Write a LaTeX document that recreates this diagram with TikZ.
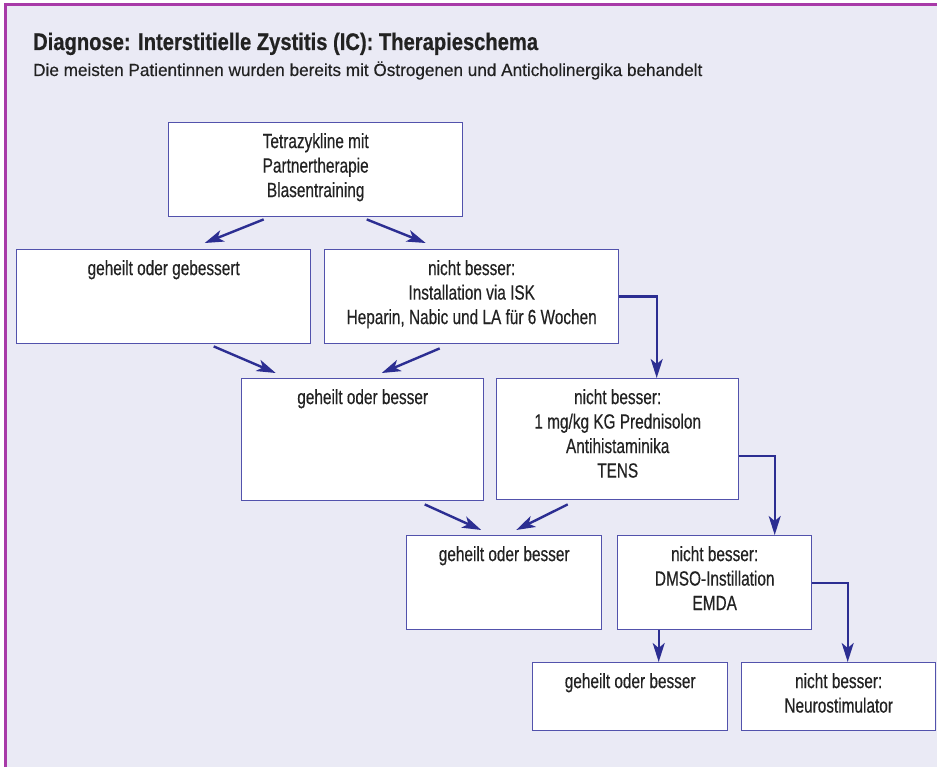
\documentclass[tikz,border=0pt]{standalone}
\usepackage{fontspec}
\setmainfont[FakeStretch=0.86]{Liberation Sans}
\newfontfamily\boxfont[FakeStretch=0.75,FakeBold=0.4]{Liberation Sans}
\newfontfamily\titlefont[FakeStretch=0.84,FakeBold=0.6]{Liberation Sans}
\newfontfamily\subfont[FakeStretch=0.98,FakeBold=0.3]{Liberation Sans}
\usetikzlibrary{arrows.meta}
\definecolor{framepurple}{RGB}{168,58,168}
\definecolor{bglav}{RGB}{234,234,245}
\definecolor{boxline}{RGB}{82,82,172}
\definecolor{arrowblue}{RGB}{44,46,146}
\definecolor{textgray}{RGB}{34,34,34}
\tikzset{
  box/.style={draw=boxline, line width=1.4pt, fill=white, anchor=north west, inner sep=0pt},
  boxtext/.style={anchor=north, align=center, inner sep=0pt, text=textgray, font=\boxfont\fontsize{20.5}{24.5}\selectfont},
  arr/.style={-{Stealth[length=19pt,width=12pt,inset=5pt]}, draw=arrowblue, line width=2.4pt},
}

\begin{document}
\begin{tikzpicture}[x=1pt,y=-1pt]
\useasboundingbox (0,0) rectangle (937,767);
% Hintergrund und Rahmen
\fill[bglav] (4,4) rectangle (937,767);
\draw[framepurple, line width=3pt] (5,767) -- (5,5) -- (937,5);
\node[anchor=base west, inner sep=0pt, text=textgray, font=\titlefont\bfseries\fontsize{24}{28}\selectfont] (titel) at (33,50) {Diagnose: Interstitielle Zystitis (IC): Therapieschema};
\node[anchor=base west, inner sep=0pt, text=textgray, font=\subfont\fontsize{17.5}{20}\selectfont] (untertitel) at (33,76) {Die meisten Patientinnen wurden bereits mit Östrogenen und Anticholinergika behandelt};
% Kaesten
\node[box, minimum width=294pt, minimum height=94pt] (tetra) at (168,122) {};
\node[box, minimum width=294pt, minimum height=94pt] (geb1) at (16,249) {};
\node[box, minimum width=294pt, minimum height=94pt] (isk) at (324,249) {};
\node[box, minimum width=242pt, minimum height=122pt] (geb2) at (241,378) {};
\node[box, minimum width=242pt, minimum height=121pt] (predni) at (496,378) {};
\node[box, minimum width=195pt, minimum height=94pt] (geb3) at (406,535) {};
\node[box, minimum width=194pt, minimum height=94pt] (dmso) at (617,535) {};
\node[box, minimum width=195pt, minimum height=68pt] (geb4) at (532,662) {};
\node[box, minimum width=194pt, minimum height=68pt] (neuro) at (741,662) {};
% Texte
\node[boxtext] (tetra-t) at ([yshift=-11pt]tetra.north) {Tetrazykline mit\\Partnertherapie\\Blasentraining};
\node[boxtext] (geb1-t) at ([yshift=-11pt]geb1.north) {geheilt oder gebessert};
\node[boxtext] (isk-t) at ([yshift=-11pt]isk.north) {nicht besser:\\Installation via ISK\\Heparin, Nabic und LA für 6 Wochen};
\node[boxtext] (geb2-t) at ([yshift=-11pt]geb2.north) {geheilt oder besser};
\node[boxtext] (predni-t) at ([yshift=-11pt]predni.north) {nicht besser:\\1 mg/kg KG Prednisolon\\Antihistaminika\\TENS};
\node[boxtext] (geb3-t) at ([yshift=-11pt]geb3.north) {geheilt oder besser};
\node[boxtext] (dmso-t) at ([yshift=-11pt]dmso.north) {nicht besser:\\DMSO-Instillation\\EMDA};
\node[boxtext] (geb4-t) at ([yshift=-11pt]geb4.north) {geheilt oder besser};
\node[boxtext] (neuro-t) at ([yshift=-11pt]neuro.north) {nicht besser:\\Neurostimulator};
% Pfeile
\draw[arr] ([xshift=-52pt,yshift=-2pt]tetra.south) -- ([xshift=41pt,yshift=6pt]geb1.north);
\draw[arr] ([xshift=51pt,yshift=-2pt]tetra.south) -- ([xshift=-46pt,yshift=6pt]isk.north);
\draw[arr] ([xshift=50pt,yshift=-2pt]geb1.south) -- ([xshift=-87pt,yshift=5pt]geb2.north);
\draw[arr] ([xshift=-32pt,yshift=-4pt]isk.south) -- ([xshift=19pt,yshift=5pt]geb2.north);
\draw[arr] ([xshift=62pt,yshift=-3pt]geb2.south) -- ([xshift=-23pt,yshift=5pt]geb3.north);
\draw[arr] ([xshift=-50pt,yshift=-4pt]predni.south) -- ([xshift=12pt,yshift=5pt]geb3.north);
\draw[arr] (isk.east) -| ([xshift=39pt]predni.north);
\draw[arr] ([yshift=-17pt]predni.east) -| ([xshift=60pt]dmso.north);
\draw[arr] (dmso.east) -| ([xshift=9pt]neuro.north);
\draw[arr] ([xshift=-56pt]dmso.south) -- ([xshift=-56pt]dmso.south |- geb4.north);
\end{tikzpicture}
\end{document}
